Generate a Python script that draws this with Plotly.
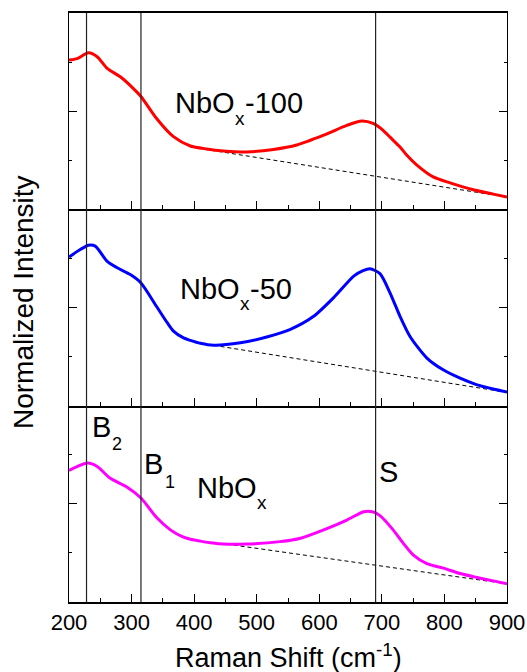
import plotly.graph_objects as go
from plotly.subplots import make_subplots

# ---- data ----
x_red = [200, 213, 231, 245, 261, 282, 303, 315, 340, 367, 394, 420, 447, 484, 527, 564, 607, 644, 668, 686, 702, 713, 729, 740, 756, 782, 809, 846, 878, 900]
y_red = [3.04, 3.07, 3.19, 3.11, 2.87, 2.70, 2.46, 2.30, 1.85, 1.48, 1.29, 1.23, 1.19, 1.17, 1.22, 1.31, 1.51, 1.71, 1.80, 1.75, 1.61, 1.47, 1.27, 1.10, 0.90, 0.66, 0.54, 0.40, 0.31, 0.25]

x_blue = [200, 218, 231, 242, 261, 277, 298, 315, 340, 357, 367, 383, 394, 410, 431, 474, 516, 553, 591, 623, 655, 670, 681, 697, 713, 729, 745, 772, 798, 825, 851, 878, 900]
y_blue = [3.03, 3.18, 3.27, 3.25, 2.94, 2.81, 2.67, 2.50, 2.02, 1.69, 1.52, 1.38, 1.33, 1.27, 1.23, 1.28, 1.40, 1.55, 1.82, 2.20, 2.64, 2.75, 2.79, 2.69, 2.30, 1.82, 1.41, 0.97, 0.73, 0.56, 0.43, 0.34, 0.28]

x_mag = [200, 213, 230, 245, 266, 293, 315, 340, 362, 383, 394, 410, 430, 447, 484, 537, 570, 607, 644, 671, 685, 697, 718, 734, 750, 772, 798, 825, 852, 878, 900]
y_mag = [2.68, 2.76, 2.83, 2.76, 2.52, 2.34, 2.12, 1.72, 1.47, 1.32, 1.28, 1.24, 1.20, 1.18, 1.18, 1.23, 1.30, 1.47, 1.67, 1.84, 1.84, 1.76, 1.47, 1.20, 0.96, 0.78, 0.69, 0.58, 0.50, 0.43, 0.37]

base_red_x, base_red_y = [394, 900], [1.27, 0.25]
base_blue_x, base_blue_y = [431, 900], [1.23, 0.27]
base_mag_x, base_mag_y = [463, 900], [1.16, 0.37]

peak_lines = [228, 315, 690]
x_ticks = [200, 300, 400, 500, 600, 700, 800, 900]

FONT = "Liberation Sans, Arial, sans-serif"

# plot-area geometry (pixels) used only to place text labels
L, R, T, B = 69, 20, 13, 70
W, H = 527 - L - R, 672 - T - B
PANEL_H = H / 3.0


def xdata(px):
    return 200 + (px - L) / W * 700


def ydata(py, panel):
    bottom = T + PANEL_H * (panel + 1)
    return (bottom - py) / PANEL_H * 4


fig = make_subplots(rows=3, cols=1, shared_xaxes=True, vertical_spacing=0)

series = [
    (1, x_red, y_red, "#ff0000", base_red_x, base_red_y),
    (2, x_blue, y_blue, "#0000ff", base_blue_x, base_blue_y),
    (3, x_mag, y_mag, "#ff00ff", base_mag_x, base_mag_y),
]
for row, xs, ys, col, bx, by in series:
    fig.add_trace(go.Scatter(x=bx, y=by, mode="lines",
                             line=dict(color="black", width=1, dash="4px,3px"),
                             showlegend=False, hoverinfo="skip"), row=row, col=1)
    fig.add_trace(go.Scatter(x=xs, y=ys, mode="lines",
                             line=dict(color=col, width=3, shape="spline", smoothing=0.7),
                             showlegend=False), row=row, col=1)

for xv in peak_lines:
    fig.add_shape(type="line", xref="x3", yref="paper", x0=xv, x1=xv, y0=0, y1=1,
                  line=dict(color="#222222", width=1.2), layer="above")

for i in range(1, 4):
    fig.update_xaxes(row=i, col=1, range=[200, 900], tickvals=x_ticks,
                     ticks="inside", ticklen=8, tickwidth=1.3, tickcolor="black",
                     minor=dict(ticks="inside", ticklen=4, dtick=50, tickwidth=1.3, tickcolor="black"),
                     showline=True, linecolor="black", linewidth=2, mirror=(i == 1),
                     showgrid=False, zeroline=False, automargin=False,
                     showticklabels=(i == 3),
                     tickfont=dict(family=FONT, size=22, color="black"))
    fig.update_yaxes(row=i, col=1, range=[0, 4], tickvals=[0, 2, 4],
                     ticks="inside", ticklen=8, tickwidth=1.3, tickcolor="black",
                     minor=dict(ticks="inside", ticklen=3, dtick=1, tickwidth=1.3, tickcolor="black"),
                     showline=True, linecolor="black", linewidth=1.3, mirror="ticks",
                     showgrid=False, zeroline=False, showticklabels=False, automargin=False)

BIG, SMALL = 29, 18
# (panel, text, left px, vertical centre px, font size)
label_parts = [
    (0, "NbO", 173, 102.5, BIG), (0, "x", 233, 118, SMALL + 1), (0, "-100", 243, 102.5, BIG),
    (1, "NbO", 178, 288.5, BIG), (1, "x", 238, 303, SMALL + 1), (1, "-50", 247.5, 288.5, BIG),
    (2, "NbO", 195, 487.8, BIG), (2, "x", 255, 503, SMALL + 1),
    (2, "B", 90, 427.5, BIG), (2, "2", 109.5, 444, SMALL),
    (2, "B", 141.5, 464, BIG), (2, "1", 163, 482.5, SMALL),
    (2, "S", 377, 472, BIG),
]
axes = [("x", "y"), ("x2", "y2"), ("x3", "y3")]
for panel, t, px, py, fs in label_parts:
    xr, yr = axes[panel]
    fig.add_annotation(xref=xr, yref=yr, x=xdata(px), y=ydata(py, panel), text=t,
                       showarrow=False, xanchor="left", yanchor="middle",
                       font=dict(family=FONT, size=fs, color="black"))

fig.add_annotation(xref="paper", yref="paper", x=-0.104, y=0.510,
                   text="Normalized Intensity", textangle=-90, showarrow=False,
                   xanchor="center", yanchor="middle",
                   font=dict(family=FONT, size=28, color="black"))
fig.add_annotation(xref="paper", yref="paper", x=0.50, y=-0.092,
                   text="Raman Shift (cm<sup>-1</sup>)", showarrow=False,
                   xanchor="center", yanchor="middle",
                   font=dict(family=FONT, size=27, color="black"))

fig.update_layout(width=527, height=672,
                  margin=dict(l=L, r=R, t=T, b=B),
                  paper_bgcolor="white", plot_bgcolor="white",
                  showlegend=False)

fig.write_html("out.html")
